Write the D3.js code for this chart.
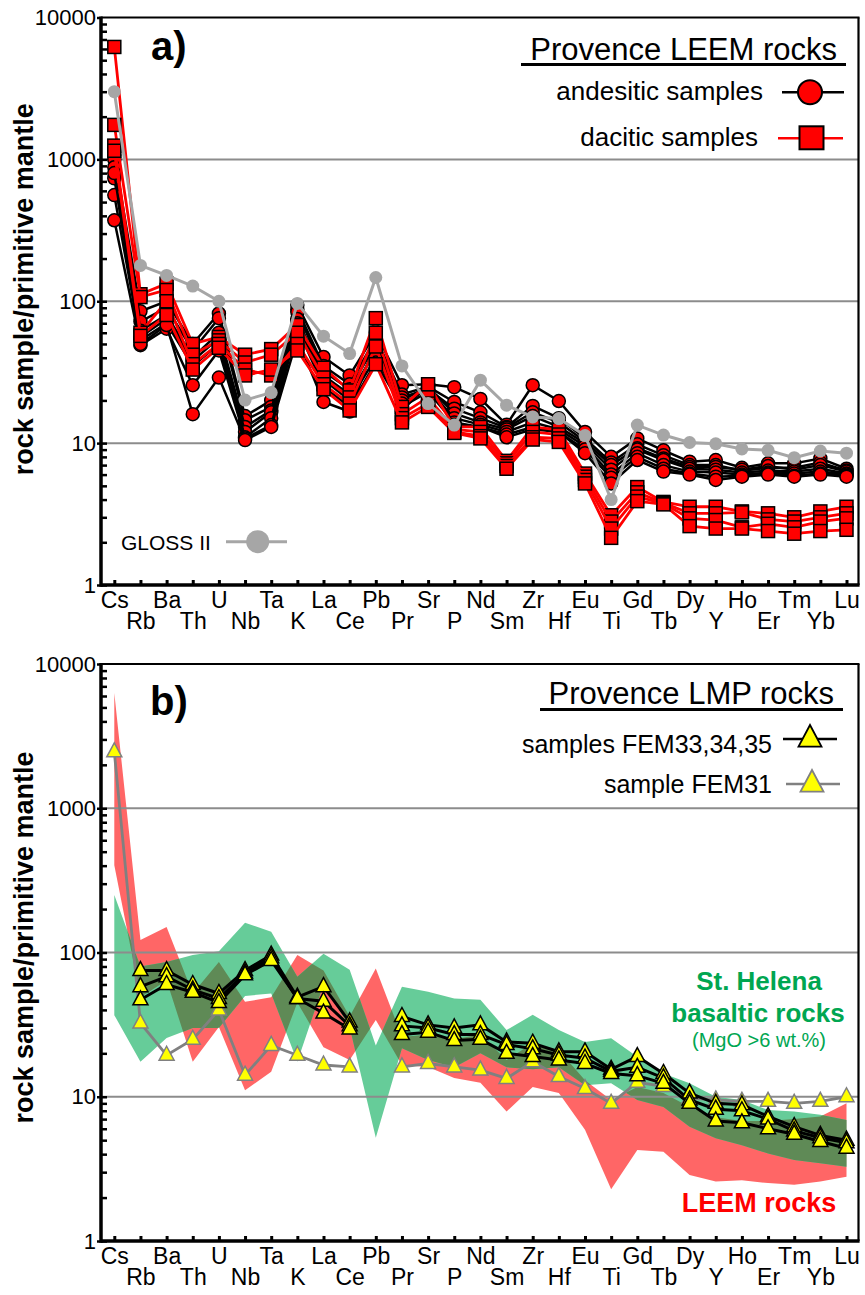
<!DOCTYPE html>
<html>
<head>
<meta charset="utf-8">
<script src="https://cdn.jsdelivr.net/npm/d3@7"></script>
<style>
  body { margin: 0; background: #fff; }
  svg text { font-family: "Liberation Sans", Arial, Helvetica, sans-serif; }
</style>
</head>
<body>
<script>
// element order on the x axis
var elements = ["Cs","Rb","Ba","Th","U","Nb","Ta","K","La","Ce","Pb","Pr","Sr","P","Nd",
                "Sm","Zr","Hf","Eu","Ti","Gd","Tb","Dy","Y","Ho","Er","Tm","Yb","Lu"];
var majorTicks = [1, 10, 100, 1000, 10000];

// ---- panel a) Provence LEEM rocks (rock / primitive mantle) ----
var andesite1 = [1070, 85, 100, 50, 82, 15.5, 20, 94, 40.5, 30, 60, 25.6, 26, 24.8, 20.5, 13.5, 25.6, 19.8, 12, 8, 10.8, 8.9, 7.4, 7.6, 6.7, 7.2, 7.2, 7.8, 6.6];
var andesite2 = [1000, 72, 90, 45, 76, 14.5, 18, 88, 35, 26, 55, 22, 25, 19.5, 16.5, 13, 18.3, 15, 10.8, 7.3, 9.8, 8.2, 7, 7, 6.4, 6.7, 6.7, 7.3, 6.4];
var andesite3 = [880, 62, 80, 40, 60, 13, 17, 84, 32, 24, 50, 21, 24, 17.5, 15, 12.8, 16.5, 14, 10.3, 7, 9.2, 7.8, 6.8, 6.8, 6.5, 6.9, 6.5, 7, 6.3];
var andesite4 = [735, 56, 75, 38, 55, 12, 16.5, 75, 30, 22, 45, 20, 25, 16.2, 14, 12.5, 15.5, 13, 10, 6.5, 9, 7.6, 6.6, 6.5, 6.2, 6.4, 6.3, 6.6, 6.1];
var andesite5 = [560, 53, 70, 35, 50, 11, 15, 70, 28, 20, 40, 19, 24, 15, 13.5, 12, 14, 12.5, 9.5, 6, 8.5, 7, 6.3, 6.2, 6, 6.2, 6.1, 6.3, 6];
var andesite6 = [372, 49, 64, 25.6, 45, 10.8, 13.4, 65, 25, 18, 37, 18, 23, 14, 13, 11.5, 13, 12, 9, 5.7, 8, 6.6, 6.1, 5.8, 5.9, 6.1, 5.9, 6.1, 5.9];
var andesite7 = [800, 50, 68, 16, 29, 10.5, 13, 55, 19.5, 16.7, 52, 17, 26, 13.5, 13, 11, 12.5, 12, 8.5, 5.2, 7.6, 6.3, 6, 5.5, 5.8, 6, 5.8, 6, 5.8];

var dacite1 = [6200, 112, 133, 50, 56, 42, 46, 68, 34, 23.5, 76, 18, 26, 13, 13, 7.5, 13, 12.4, 6.1, 3.1, 4.9, 3.85, 3.56, 3.56, 3.3, 3.2, 3.0, 3.3, 3.56];
var dacite2 = [1750, 107, 120, 42, 53, 37, 42, 60, 29, 21, 60, 16, 21, 12.5, 12, 7.2, 12, 11.5, 5.8, 2.8, 4.5, 3.8, 3.2, 3.2, 3.25, 2.9, 2.8, 3.0, 3.2];
var dacite3 = [1250, 60, 100, 36, 50, 33, 30, 50, 26, 19, 48, 15, 19, 12, 11.2, 6.9, 11, 10.8, 5.5, 2.5, 4.2, 3.75, 2.95, 2.87, 2.55, 2.7, 2.55, 2.8, 2.95];
var dacite4 = [1150, 57, 80, 33, 47, 30, 33, 45, 24, 17, 36, 14, 18, 11.8, 10.8, 6.6, 10.6, 10.2, 5.2, 2.15, 3.9, 3.7, 2.6, 2.5, 2.5, 2.4, 2.3, 2.4, 2.45];

var gloss2 = [3000, 179, 152, 128, 100, 20.1, 22.7, 96.6, 56.7, 42.8, 147, 35, 19, 13.4, 27.8, 18.5, 15.3, 14.9, 11.3, 4.0, 13.4, 11.4, 10.1, 9.9, 9.1, 8.9, 7.9, 8.8, 8.5];

var andesites = [andesite1, andesite2, andesite3, andesite4, andesite5, andesite6, andesite7];
var dacites = [dacite1, dacite2, dacite3, dacite4];

// ---- panel b) Provence LMP rocks ----
var fem33 = [null, 75, 75, 60, 52, 75, 96, 49, 58, 33, null, 36, 31.5, 30, 31.5, 24, 23.5, 20.5, 20.5, 15.5, 19, 14.5, 10.6, 9, 8.8, 7.3, 6.2, 5.4, 5.0];
var fem34 = [null, 58, 68, 55, 48, 72, 92, 48, 46, 31, null, 31, 30, 27, 27, 23, 21.5, 19.5, 18.5, 15, 16, 13.5, 9.5, 8.2, 8, 7, 5.8, 5.2, 4.8];
var fem35 = [null, 47, 60, 53, 45, 70, 88, 48, 38, 29.5, null, 27, 28, 24.5, 25, 20, 19, 18, 17, 14.5, 14, 12.4, 9, 6.8, 6.6, 6, 5.5, 4.9, 4.4];
var fem31 = [2460, 32.4, 19.4, 25, 40, 14.1, 22.7, 19.4, 16.6, 16.1, null, 16.1, 17, 16.1, 15.3, 13.4, 17.5, 13.8, 11.4, 9.0, 12.6, 11.8, 9.8, 9.5, 9.3, 9.3, 9.0, 9.3, 10];

// field of LEEM rocks (red) and St. Helena basalts (green)
var leemUpper   = [6300, 122, 150, 52, 86, 45.5, 49, 96, 75, 36, 77.6, 26, 27, 25, 27, 18, 23.5, 21, 13, 9.5, 11.7, 10.6, 8.5, 7.2, 6.8, 6.8, 7.0, 7.3, 9.0];
var leemLower   = [403, 49, 64, 17.5, 30.5, 11.1, 14.9, 45, 22, 18, 34, 16.6, 16.1, 13.5, 12.5, 7.9, 11.7, 10.6, 5.9, 2.28, 4.27, 4.16, 2.87, 2.58, 2.64, 2.52, 2.45, 2.58, 2.79];
var helenaUpper = [250, 80, 86, 96, 102, 161, 139, 68, 98, 76, 22.7, 58, 53.5, 48, 47, 29, 37, 29, 24, 25.4, 18.9, 14.5, 12.4, 10, 9.5, 8.1, 7.9, 7.5, 6.9];
var helenaLower = [36.8, 17.5, 25.5, 30, 30, 50, 52, 17.5, 60, 30.5, 5.2, 21.7, 18, 16, 20, 16, 15.5, 16, 12, 12.4, 9.5, 8.5, 6.2, 5.15, 4.62, 4.04, 3.64, 3.46, 3.27];

var W = 865, H = 1295;
var svg = d3.select("body").append("svg").attr("width", W).attr("height", H);

var plotLeft = 101, plotRight = 858.5;
var x = d3.scalePoint().domain(elements).range([114.3, 846.5]);

var yA = d3.scaleLog().domain([1, 10000]).range([585, 17.5]);
var yB = d3.scaleLog().domain([1, 10000]).range([1241, 664]);

function pts(vals) {
  return vals.map(function(v, i) { return {el: elements[i], v: v}; });
}

function lineFor(y) {
  return d3.line()
    .defined(function(d) { return d.v != null; })
    .x(function(d) { return x(d.el); })
    .y(function(d) { return y(d.v); });
}

function drawGrid(g, y) {
  g.selectAll("line.grid").data([10, 100, 1000]).enter().append("line")
    .attr("class", "grid")
    .attr("x1", plotLeft).attr("x2", plotRight)
    .attr("y1", function(d) { return y(d); }).attr("y2", function(d) { return y(d); })
    .attr("stroke", "#8c8c8c").attr("stroke-width", 2);
}

function drawAxes(g, y, titleShift) {
  var top = y.range()[1], bottom = y.range()[0];
  var minor = [];
  for (var dec = 1; dec < 10000; dec *= 10)
    for (var k = 1; k < 10; k++) minor.push(dec * k);

  // small ticks on the inner side
  var gm = g.append("g").attr("transform", "translate(" + plotLeft + ",0)")
    .call(d3.axisLeft(y).tickValues(minor).tickSizeInner(-6).tickSizeOuter(0).tickFormat(""));
  gm.select(".domain").remove();
  gm.selectAll("line").attr("stroke", "#000").attr("stroke-width", 2.5);

  // decade ticks and labels
  var gy = g.append("g").attr("transform", "translate(" + plotLeft + ",0)")
    .call(d3.axisLeft(y).tickValues(majorTicks).tickSize(4).tickPadding(1).tickFormat(d3.format("d")));
  gy.select(".domain").remove();
  gy.selectAll("line").attr("stroke", "#000").attr("stroke-width", 2.5);
  gy.selectAll("text").attr("font-size", 22).attr("fill", "#000")
    .attr("font-family", "Liberation Sans, Arial, sans-serif");

  // element labels, staggered in two rows
  var gx = g.append("g").attr("transform", "translate(0," + bottom + ")")
    .call(d3.axisBottom(x).tickSize(-5).tickSizeOuter(0));
  gx.select(".domain").remove();
  gx.selectAll("line").attr("stroke", "#000").attr("stroke-width", 3);
  gx.selectAll("text").attr("font-size", 23).attr("fill", "#000")
    .attr("font-family", "Liberation Sans, Arial, sans-serif")
    .attr("dy", 0)
    .attr("y", function(d, i) { return i % 2 ? 44 : 23; });

  // frame
  g.append("line").attr("x1", plotLeft).attr("x2", plotRight + 1).attr("y1", top).attr("y2", top)
    .attr("stroke", "#000").attr("stroke-width", 2.2);
  g.append("line").attr("x1", plotRight).attr("x2", plotRight).attr("y1", top).attr("y2", bottom)
    .attr("stroke", "#000").attr("stroke-width", 2.2);
  g.append("line").attr("x1", plotLeft).attr("x2", plotLeft).attr("y1", top - 1).attr("y2", bottom + 1.7)
    .attr("stroke", "#000").attr("stroke-width", 3.5);
  g.append("line").attr("x1", plotLeft).attr("x2", plotRight + 1.1).attr("y1", bottom).attr("y2", bottom)
    .attr("stroke", "#000").attr("stroke-width", 3.5);

  // y title
  g.append("text")
    .attr("transform", "translate(33," + ((top + bottom) / 2 + titleShift) + ") rotate(-90)")
    .attr("text-anchor", "middle")
    .attr("font-size", 27).attr("font-weight", "bold")
    .text("rock sample/primitive mantle");
}

function trianglePath(s) {
  return "M0," + (-9 * s) + "L" + (7.5 * s) + "," + (5 * s) + "L" + (-7.5 * s) + "," + (5 * s) + "Z";
}

// ================= panel a =================
var gA = svg.append("g");
drawGrid(gA, yA);
var lineA = lineFor(yA);

andesites.forEach(function(s) {
  var d = pts(s);
  gA.append("path").datum(d).attr("d", lineA)
    .attr("fill", "none").attr("stroke", "#000").attr("stroke-width", 2.5);
  gA.append("g").selectAll("circle").data(d.filter(function(p) { return p.v != null; }))
    .enter().append("circle")
    .attr("cx", function(p) { return x(p.el); }).attr("cy", function(p) { return yA(p.v); })
    .attr("r", 6.5).attr("fill", "#ff0000").attr("stroke", "#000").attr("stroke-width", 1.5);
});

dacites.forEach(function(s) {
  var d = pts(s);
  gA.append("path").datum(d).attr("d", lineA)
    .attr("fill", "none").attr("stroke", "#ff0000").attr("stroke-width", 2.8);
  gA.append("g").selectAll("rect").data(d.filter(function(p) { return p.v != null; }))
    .enter().append("rect")
    .attr("x", function(p) { return x(p.el) - 6.5; }).attr("y", function(p) { return yA(p.v) - 6.5; })
    .attr("width", 13).attr("height", 13)
    .attr("fill", "#ff0000").attr("stroke", "#000").attr("stroke-width", 1.5);
});

var glossPts = pts(gloss2);
gA.append("path").datum(glossPts).attr("d", lineA)
  .attr("fill", "none").attr("stroke", "#a6a6a6").attr("stroke-width", 3);
gA.append("g").selectAll("circle").data(glossPts).enter().append("circle")
  .attr("cx", function(p) { return x(p.el); }).attr("cy", function(p) { return yA(p.v); })
  .attr("r", 6.5).attr("fill", "#a6a6a6");

drawAxes(gA, yA, -12);

gA.append("text").attr("x", 151).attr("y", 60).attr("font-size", 40).attr("font-weight", "bold").text("a)");

// legend a
gA.append("text").attr("x", 837).attr("y", 60).attr("text-anchor", "end")
  .attr("font-size", 31).text("Provence LEEM rocks");
gA.append("line").attr("x1", 521).attr("x2", 846).attr("y1", 64.5).attr("y2", 64.5)
  .attr("stroke", "#000").attr("stroke-width", 3);

gA.append("text").attr("x", 763).attr("y", 100).attr("text-anchor", "end").attr("font-size", 26).text("andesitic samples");
gA.append("line").attr("x1", 782).attr("x2", 844).attr("y1", 92.3).attr("y2", 92.3).attr("stroke", "#000").attr("stroke-width", 2.5);
gA.append("circle").attr("cx", 810).attr("cy", 92.3).attr("r", 12)
  .attr("fill", "#ff0000").attr("stroke", "#000").attr("stroke-width", 2);

gA.append("text").attr("x", 758).attr("y", 146).attr("text-anchor", "end").attr("font-size", 26).text("dacitic samples");
gA.append("line").attr("x1", 778).attr("x2", 843).attr("y1", 138.3).attr("y2", 138.3).attr("stroke", "#ff0000").attr("stroke-width", 2.5);
gA.append("rect").attr("x", 799.5).attr("y", 126.3).attr("width", 24).attr("height", 23)
  .attr("fill", "#ff0000").attr("stroke", "#000").attr("stroke-width", 2);

gA.append("text").attr("x", 121).attr("y", 550).attr("font-size", 21).text("GLOSS II");
gA.append("line").attr("x1", 226).attr("x2", 287).attr("y1", 541.7).attr("y2", 541.7).attr("stroke", "#a6a6a6").attr("stroke-width", 3);
gA.append("circle").attr("cx", 257.7).attr("cy", 541.7).attr("r", 11.5).attr("fill", "#a6a6a6");

// ================= panel b =================
var gB = svg.append("g");

function bandArea(upper, lower) {
  return d3.area()
    .x(function(d, i) { return x(elements[i]); })
    .y0(function(d, i) { return yB(lower[i]); })
    .y1(function(d, i) { return yB(upper[i]); })(elements);
}

var leemPath = bandArea(leemUpper, leemLower);
var helenaPath = bandArea(helenaUpper, helenaLower);

svg.append("defs").append("clipPath").attr("id", "leemClip")
  .append("path").attr("d", leemPath);

gB.append("path").attr("d", leemPath).attr("fill", "#ff6666");
gB.append("path").attr("d", helenaPath).attr("fill", "#66cc99");
// where both fields overlap
gB.append("path").attr("d", helenaPath).attr("fill", "#5f8a56").attr("clip-path", "url(#leemClip)");

drawGrid(gB, yB);
var lineB = lineFor(yB);

var femPts = pts(fem31);
gB.append("path").datum(femPts).attr("d", lineB)
  .attr("fill", "none").attr("stroke", "#808080").attr("stroke-width", 2.8);
gB.append("g").selectAll("path").data(femPts.filter(function(p) { return p.v != null; }))
  .enter().append("path")
  .attr("d", trianglePath(1))
  .attr("transform", function(p) { return "translate(" + x(p.el) + "," + yB(p.v) + ")"; })
  .attr("fill", "#ffff00").attr("stroke", "#808080").attr("stroke-width", 1.5);

[fem33, fem34, fem35].forEach(function(s) {
  var d = pts(s);
  gB.append("path").datum(d).attr("d", lineB)
    .attr("fill", "none").attr("stroke", "#000").attr("stroke-width", 3);
});
[fem33, fem34, fem35].forEach(function(s) {
  gB.append("g").selectAll("path").data(pts(s).filter(function(p) { return p.v != null; }))
    .enter().append("path")
    .attr("d", trianglePath(1))
    .attr("transform", function(p) { return "translate(" + x(p.el) + "," + yB(p.v) + ")"; })
    .attr("fill", "#ffff00").attr("stroke", "#000").attr("stroke-width", 1.5);
});

drawAxes(gB, yB, -15);

gB.append("text").attr("x", 150).attr("y", 715).attr("font-size", 40).attr("font-weight", "bold").text("b)");

// legend b
gB.append("text").attr("x", 834).attr("y", 704).attr("text-anchor", "end")
  .attr("font-size", 31).text("Provence LMP rocks");
gB.append("line").attr("x1", 540).attr("x2", 843).attr("y1", 709.5).attr("y2", 709.5)
  .attr("stroke", "#000").attr("stroke-width", 3);

gB.append("text").attr("x", 772).attr("y", 753).attr("text-anchor", "end").attr("font-size", 25).text("samples FEM33,34,35");
gB.append("line").attr("x1", 783).attr("x2", 837).attr("y1", 739).attr("y2", 739).attr("stroke", "#000").attr("stroke-width", 2.5);
gB.append("path").attr("d", "M0,-14L11.5,7.7L-11.5,7.7Z").attr("transform", "translate(810,739)")
  .attr("fill", "#ffff00").attr("stroke", "#000").attr("stroke-width", 1.8);

gB.append("text").attr("x", 772).attr("y", 793).attr("text-anchor", "end").attr("font-size", 25).text("sample FEM31");
gB.append("line").attr("x1", 786).attr("x2", 840).attr("y1", 784).attr("y2", 784).attr("stroke", "#808080").attr("stroke-width", 2.5);
gB.append("path").attr("d", "M0,-14L11.5,7.7L-11.5,7.7Z").attr("transform", "translate(812,784)")
  .attr("fill", "#ffff00").attr("stroke", "#808080").attr("stroke-width", 1.8);

// field labels
gB.append("text").attr("x", 759).attr("y", 990).attr("text-anchor", "middle")
  .attr("font-size", 26).attr("font-weight", "bold").attr("fill", "#00a651").text("St. Helena");
gB.append("text").attr("x", 758).attr("y", 1022).attr("text-anchor", "middle")
  .attr("font-size", 26).attr("font-weight", "bold").attr("fill", "#00a651").text("basaltic rocks");
gB.append("text").attr("x", 759).attr("y", 1047).attr("text-anchor", "middle")
  .attr("font-size", 20).attr("fill", "#00a651").text("(MgO >6 wt.%)");
gB.append("text").attr("x", 759).attr("y", 1212).attr("text-anchor", "middle")
  .attr("font-size", 27).attr("font-weight", "bold").attr("fill", "#ff0000").text("LEEM rocks");
</script>
</body>
</html>
